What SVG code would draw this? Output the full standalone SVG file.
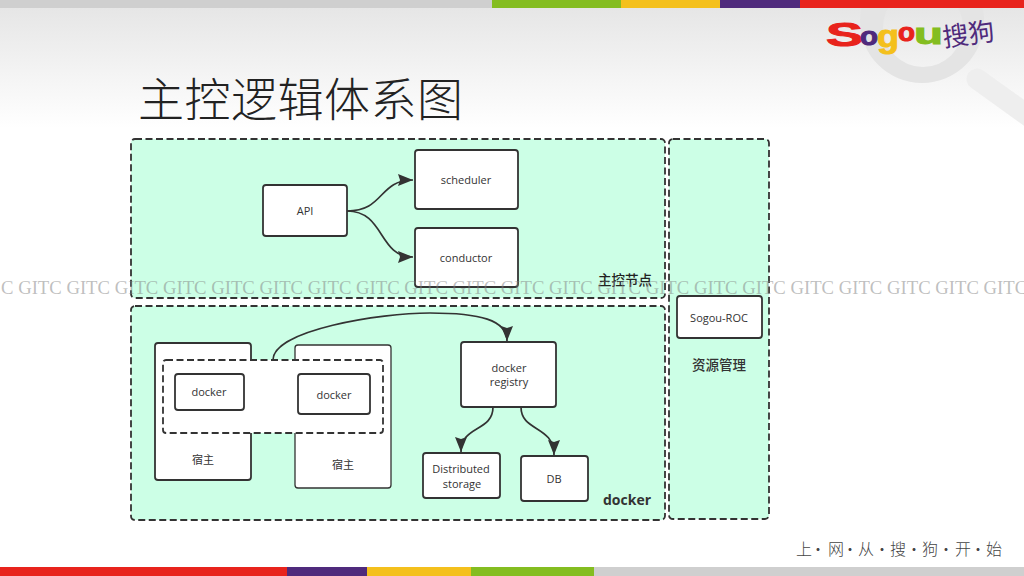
<svg xmlns="http://www.w3.org/2000/svg" width="1024" height="576" viewBox="0 0 1024 576">
<style>
.sans{font-family:"Open Sans","Noto Sans CJK SC",sans-serif}
.cjk{font-family:"Noto Sans CJK SC",sans-serif}
.zone{fill:#ccffe6;stroke:#333;stroke-width:1.8;stroke-dasharray:7 3.5}
.box{fill:#fff;stroke:#333;stroke-width:1.8}
.lbl{font-family:"Open Sans","Noto Sans CJK SC",sans-serif;font-size:11px;fill:#333;text-anchor:middle}
.line{fill:none;stroke:#333;stroke-width:1.7}
.wm{font-family:"Liberation Serif",serif;font-size:18.7px;fill:#808080;fill-opacity:.5}
.logo{font-family:"Liberation Sans",sans-serif;font-weight:bold;stroke-width:1}
</style>
<defs>
<linearGradient id="bg" x1="0" y1="0" x2="0" y2="1"><stop offset="0" stop-color="#e6e6e6"/><stop offset="1" stop-color="#fff"/></linearGradient>
<marker id="arrow" markerUnits="userSpaceOnUse" markerWidth="16" markerHeight="14" refX="15" refY="7" orient="auto"><path d="M0 1L15 7L0 13L2 7Z" fill="#333"/></marker>
</defs>
<rect width="1024" height="576" fill="#fff"/>
<rect y="8" width="1024" height="120" fill="url(#bg)"/>
<g id="magnifier">
<path fill="#e4e4e4" fill-rule="evenodd" d="M860 21a62 62 0 1 0 124 0a62 62 0 1 0 -124 0ZM883 27a40 40 0 1 0 80 0a40 40 0 1 0 -80 0Z"/>
<path d="M977 79L1034 120" fill="none" stroke="#eeeeee" stroke-width="21" stroke-linecap="round"/>
</g>
<g id="top-bar">
<rect y="0" width="492" height="8" fill="#cfcfcf"/><rect x="492" width="129" height="8" fill="#84bd20"/><rect x="621" width="99" height="8" fill="#f4c01c"/><rect x="720" width="80" height="8" fill="#4f2a7c"/><rect x="800" width="224" height="8" fill="#e8231c"/>
</g>
<g id="bottom-bar">
<rect y="567" width="287" height="9" fill="#e8231c"/><rect x="287" y="567" width="80" height="9" fill="#4f2a7c"/><rect x="367" y="567" width="104" height="9" fill="#f4c01c"/><rect x="471" y="567" width="123" height="9" fill="#84bd20"/><rect x="594" y="567" width="430" height="9" fill="#cfcfcf"/>
</g>
<g id="logo" class="logo">
<text x="826" y="46" font-size="33" fill="#e8231c" stroke="#e8231c" textLength="37" lengthAdjust="spacingAndGlyphs">S</text>
<text x="860" y="45" font-size="25" fill="#4f2a7c" stroke="#4f2a7c" textLength="18" lengthAdjust="spacingAndGlyphs">o</text>
<text x="877" y="47" font-size="32" fill="#f4c01c" stroke="#f4c01c" textLength="22" lengthAdjust="spacingAndGlyphs">g</text>
<text x="898" y="41" font-size="25" fill="#e8231c" stroke="#e8231c" textLength="17" lengthAdjust="spacingAndGlyphs">o</text>
<text x="914" y="44" font-size="30" fill="#84bd20" stroke="#84bd20" textLength="29" lengthAdjust="spacingAndGlyphs">u</text>
<text font-family="Noto Sans CJK SC,sans-serif" font-size="26" fill="#4f2a7c" font-weight="400" transform="translate(944 47) rotate(-8)">搜狗</text>
</g>
<text id="title" x="138" y="116" font-family="Noto Sans CJK SC,sans-serif" font-size="46" font-weight="300" fill="#222" textLength="325">主控逻辑体系图</text>
<g id="zone-master"><rect class="zone" x="131" y="139" width="534" height="159" rx="4"/><text class="cjk" x="625" y="285" font-size="13.5" font-weight="500" fill="#222" text-anchor="middle">主控节点</text></g>
<g id="zone-docker"><rect class="zone" x="131" y="306" width="534" height="214" rx="4"/><text class="sans" x="627" y="505" font-size="14" font-weight="bold" fill="#333" text-anchor="middle">docker</text></g>
<g id="zone-resource"><rect class="zone" x="669" y="139" width="100" height="380" rx="4"/><text class="cjk" x="719" y="370" font-size="13.5" font-weight="500" fill="#333" text-anchor="middle">资源管理</text></g>
<g id="api"><rect class="box" x="263" y="185" width="84" height="51" rx="3"/><text class="lbl" x="305" y="215">API</text></g>
<g id="scheduler"><rect class="box" x="415" y="150" width="103" height="59" rx="3"/><text class="lbl" x="466" y="184">scheduler</text></g>
<g id="conductor"><rect class="box" x="415" y="228" width="103" height="59" rx="3"/><text class="lbl" x="466" y="262">conductor</text></g>
<g id="host-1"><rect class="box" x="155" y="343" width="96" height="137" rx="3"/><text class="lbl" x="203" y="464">宿主</text></g>
<g id="host-2"><rect class="box" x="295" y="345" width="96" height="143" rx="3" style="stroke-width:1.3"/><text class="lbl" x="343" y="469">宿主</text></g>
<g id="docker-group"><rect x="163" y="360" width="220" height="73" rx="3" fill="#fff" stroke="#333" stroke-width="1.8" stroke-dasharray="7 3.5"/></g>
<g id="docker-1"><rect class="box" x="175" y="374" width="69" height="36" rx="3"/><text class="lbl" x="209" y="396">docker</text></g>
<g id="docker-2"><rect class="box" x="298" y="374" width="72" height="40" rx="3"/><text class="lbl" x="334" y="399">docker</text></g>
<g id="registry"><rect class="box" x="461" y="342" width="95" height="65" rx="3"/><text class="lbl" x="509" y="372">docker</text><text class="lbl" x="509" y="386">registry</text></g>
<g id="storage"><rect class="box" x="423" y="453" width="77" height="45" rx="3"/><text class="lbl" x="461" y="473">Distributed</text><text class="lbl" x="462" y="488">storage</text></g>
<g id="db"><rect class="box" x="521" y="456" width="67" height="45" rx="3"/><text class="lbl" x="554" y="483">DB</text></g>
<g id="sogou-roc"><rect class="box" x="677" y="296" width="85" height="42" rx="3"/><text class="lbl" x="719" y="322">Sogou-ROC</text></g>
<g id="connectors">
<path class="line" marker-end="url(#arrow)" d="M347 211C385 211 378 180 413 180"/>
<path class="line" marker-end="url(#arrow)" d="M347 211C385 211 378 257 413 257"/>
<path class="line" marker-end="url(#arrow)" d="M273 360C273 330 380 313 430 313C480 313 507 320 507 341"/>
<path class="line" marker-end="url(#arrow)" d="M493 407C493 432 461 425 461 452"/>
<path class="line" marker-end="url(#arrow)" d="M521 407C521 432 554 425 554 455"/>
</g>
<text id="watermark" class="wm" x="1" y="294">C GITC GITC GITC GITC GITC GITC GITC GITC GITC GITC GITC GITC GITC GITC GITC GITC GITC GITC GITC GITC GITC</text>
<text id="slogan" class="cjk" y="555" font-size="16" font-weight="300" fill="#444" x="796 810 828 842 858 874 890 906 922 938 955 970 986">上·网·从·搜·狗·开·始</text>
</svg>
